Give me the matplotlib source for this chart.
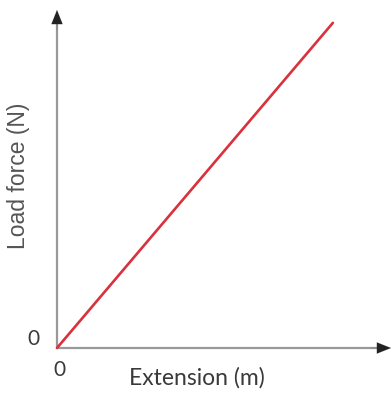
import matplotlib
matplotlib.use("Agg")
import matplotlib.pyplot as plt

# proportional line: load force vs extension (arbitrary units)
extension = [0, 0.826]
load_force = [0, 0.962]
x_label = "Extension (m)"
y_label = "Load force (N)"
origin_label = "0"

plt.rcParams['font.family'] = ['Lato', 'DejaVu Sans']

fig = plt.figure(figsize=(3.92, 3.94), dpi=100)
W, H = 392, 394
ox, oy = 57, 348          # origin in pixels
ax = fig.add_axes([ox / W, (H - oy) / H, (391 - ox) / W, (oy - 10) / H])
ax.set_xlim(0, 1)
ax.set_ylim(0, 1)
ax.axis('off')

# axes with arrow heads
ax.plot([0, 0.96], [0, 0], color="#999999", lw=1.6, solid_capstyle='butt', clip_on=False)
ax.plot([0, 0], [0, 0.96], color="#999999", lw=1.6, solid_capstyle='butt', clip_on=False)
head = "-|>,head_length=1.0,head_width=0.4"
ax.annotate("", xy=(1.0, 0), xytext=(0.94, 0),
            arrowprops=dict(arrowstyle=head, color="#222222", lw=0.1, shrinkA=0, shrinkB=0),
            annotation_clip=False)
ax.annotate("", xy=(0, 1.0), xytext=(0, 0.94),
            arrowprops=dict(arrowstyle=head, color="#222222", lw=0.1, shrinkA=0, shrinkB=0),
            annotation_clip=False)

ax.plot(extension, load_force, color="#d9323c", lw=1.9, solid_capstyle='round', clip_on=False)

fig.text(33 / W, 1 - 339 / H, origin_label, ha='center', va='center', fontsize=15, color="#3a3a3a")
fig.text(59 / W, 1 - 370 / H, origin_label, ha='center', va='center', fontsize=15, color="#3a3a3a")
fig.text(197 / W, 1 - 378 / H, x_label, ha='center', va='center', fontsize=16.5, color="#3a3a3a")
fig.text(19 / W, 1 - 176 / H, y_label, ha='center', va='center', rotation=90,
         fontsize=16.5, color="#555555", family=['Liberation Sans', 'DejaVu Sans'])

fig.savefig("out.png", dpi=100)
